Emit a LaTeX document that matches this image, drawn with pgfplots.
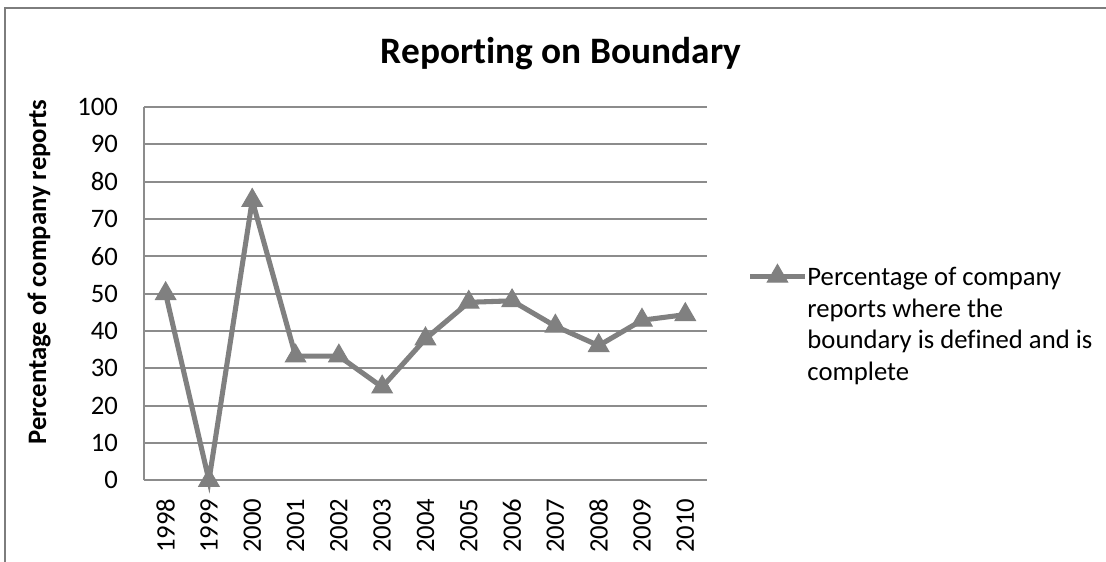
\documentclass[border=0pt]{standalone}
\usepackage{pgfplots}
\pgfplotsset{compat=1.18}
\usepackage{fontspec}
\setmainfont{Carlito}[Ligatures=NoCommon]

\definecolor{seriesgray}{RGB}{128,128,128}
\definecolor{gridgray}{RGB}{140,140,140}
\definecolor{framegray}{RGB}{125,125,125}

\begin{document}
\begin{tikzpicture}
  % page size and chart-area frame (right and bottom edges lie outside the page)
  \useasboundingbox (0,0) rectangle (414.75pt,210.75pt);
  \draw[framegray, line width=0.8pt] (2pt,-5pt) -- (2pt,207.6pt) -- (420pt,207.6pt);
  \begin{axis}[
    at={(54pt,30.6pt)}, anchor=south west,
    scale only axis, width=211.1pt, height=140pt,
    clip=false,
    xmin=-0.5, xmax=12.5,
    ymin=0, ymax=100,
    xtick={0,...,12},
    xticklabels={1998,1999,2000,2001,2002,2003,2004,2005,2006,2007,2008,2009,2010},
    ytick={0,10,...,100},
    axis lines*=left,
    axis line style={draw=gridgray, line width=0.7pt},
    ymajorgrids,
    grid style={draw=gridgray, line width=0.7pt},
    major tick length=0pt,
    tick label style={font=\fontsize{10}{12}\selectfont},
    /pgf/number format/assume math mode=true,
    yticklabel style={anchor=east, inner sep=0pt, xshift=-9.6pt},
    xticklabel style={rotate=90, anchor=east, inner sep=0pt},
    xticklabel shift=6.6pt,
    ylabel={Percentage of company reports},
    ylabel style={at={(axis description cs:-0.1865,0.558)}, anchor=center,
                  font=\bfseries\fontsize{10}{12}\selectfont},
    title={Reporting on Boundary},
    title style={at={(axis description cs:0.7407,1.0725)}, anchor=base,
                 font=\bfseries\fontsize{14}{17}\selectfont},
    legend style={draw=none, fill=none, inner sep=0pt, outer sep=0pt,
                  at={(axis description cs:1.072,0.582)}, anchor=north west,
                  font=\fontsize{10}{11.9}\selectfont,
                  nodes={inner sep=0pt},
                  /tikz/every even column/.append style={column sep=1.8pt}},
    legend image code/.code={
      \draw[mark repeat=2, mark phase=2, #1]
        plot coordinates {(0pt,0pt) (10.3pt,0pt) (20.6pt,0pt)};
    },
  ]
    \addplot[seriesgray, line width=1.9pt, mark=triangle*, mark size=4.4pt,
             mark options={solid, fill=seriesgray, line width=0.4pt}]
      coordinates {
        (0,50) (1,0) (2,75) (3,33.3) (4,33.3) (5,25) (6,37.9)
        (7,47.7) (8,48.1) (9,41.3) (10,36.1) (11,42.9) (12,44.4)
      };
    \addlegendentry{\begin{tabular}[t]{@{}l@{}}Percentage of company\\reports where the\\boundary is defined and is\\complete\end{tabular}}
  \end{axis}
\end{tikzpicture}
\end{document}
